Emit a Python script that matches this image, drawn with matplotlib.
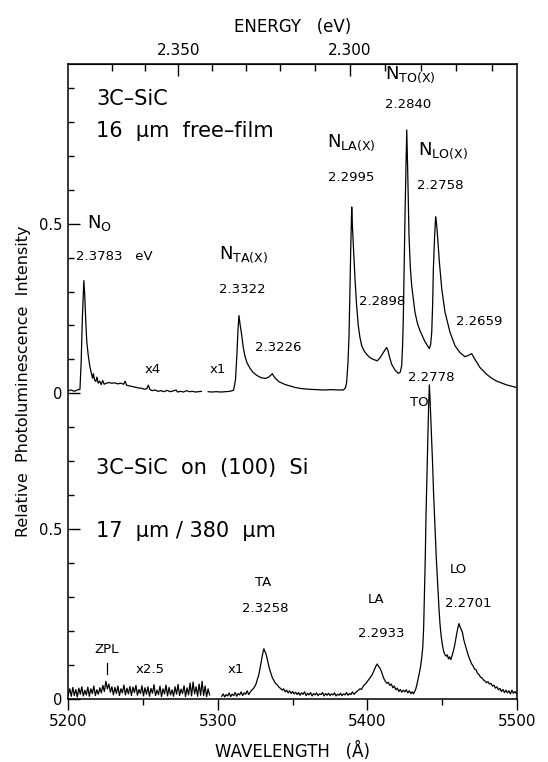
import numpy as np
import matplotlib
matplotlib.use('Agg')
import matplotlib.pyplot as plt
from matplotlib.ticker import FixedLocator, NullFormatter

# ---- upper trace: 16 um free film (offset by 0.9) ----
lam_up1 = [5200.0, 5202.0, 5204.0, 5206.0, 5207.8, 5208.6, 5209.4, 5210.4, 5211.0, 5211.7,
           5212.4, 5213.4, 5214.4, 5215.4, 5216.2, 5216.8, 5217.5, 5218.4, 5219.2, 5220.0,
           5221.0, 5222.0, 5223.0, 5224.0, 5225.5, 5227.0, 5229.0, 5231.0, 5233.0, 5235.0,
           5237.0, 5238.0, 5239.0, 5241.0, 5243.0, 5245.0, 5247.0, 5249.0, 5251.0, 5252.5,
           5253.5, 5254.5, 5256.0, 5258.0, 5260.0, 5262.0, 5264.0, 5266.0, 5268.0, 5270.0,
           5272.0, 5273.0, 5275.0, 5277.0, 5279.0, 5281.0, 5283.0, 5285.0, 5287.0, 5289.0]
int_up1 = [0.008, 0.010, 0.006, 0.010, 0.012, 0.090, 0.220, 0.332, 0.290, 0.210,
           0.150, 0.110, 0.080, 0.060, 0.045, 0.058, 0.040, 0.035, 0.048, 0.030,
           0.036, 0.026, 0.038, 0.027, 0.030, 0.032, 0.030, 0.031, 0.028, 0.030,
           0.027, 0.036, 0.024, 0.022, 0.020, 0.018, 0.016, 0.015, 0.012, 0.014,
           0.024, 0.012, 0.008, 0.010, 0.006, 0.008, 0.005, 0.009, 0.005, 0.007,
           0.010, 0.004, 0.006, 0.004, 0.008, 0.005, 0.006, 0.004, 0.005, 0.006]

lam_up2 = [5293.5, 5296.0, 5299.0, 5302.0, 5305.0, 5308.0, 5310.5, 5311.8, 5312.8, 5313.5,
           5314.1, 5314.8, 5316.0, 5317.0, 5318.1, 5319.5, 5321.5, 5323.5, 5326.0, 5329.0,
           5332.0, 5334.0, 5335.5, 5336.4, 5337.2, 5338.5, 5341.0, 5345.0, 5348.2, 5352.0,
           5356.0, 5361.6, 5366.0, 5371.0, 5376.0, 5380.0, 5383.9, 5385.3, 5386.1, 5387.0,
           5387.7, 5388.3, 5388.8, 5389.5, 5390.0, 5390.6, 5391.7, 5392.8, 5393.9, 5395.0,
           5396.2, 5397.8, 5399.5, 5401.5, 5403.9, 5406.6, 5408.6, 5410.6, 5412.0, 5412.9,
           5413.8, 5414.6, 5416.2, 5418.4, 5420.6, 5421.9, 5422.9, 5423.5, 5424.0, 5424.6,
           5425.1, 5425.7, 5426.3, 5426.9, 5427.8, 5428.7, 5429.6, 5431.8, 5433.5, 5435.2,
           5438.5, 5441.4, 5442.3, 5443.0, 5443.6, 5444.1, 5444.9, 5445.6, 5446.2, 5446.7,
           5448.1, 5449.7, 5451.9, 5455.2, 5458.6, 5461.9, 5465.2, 5467.5, 5469.7, 5471.9,
           5475.3, 5479.7, 5483.0, 5486.4, 5490.0, 5493.1, 5496.5, 5499.8]
int_up2 = [0.005, 0.004, 0.005, 0.004, 0.005, 0.006, 0.009, 0.040, 0.120, 0.190,
           0.229, 0.205, 0.170, 0.135, 0.110, 0.090, 0.074, 0.062, 0.053, 0.046,
           0.044, 0.048, 0.054, 0.058, 0.052, 0.044, 0.034, 0.026, 0.022, 0.017,
           0.014, 0.012, 0.011, 0.010, 0.011, 0.010, 0.010, 0.016, 0.032, 0.090,
           0.170, 0.300, 0.416, 0.549, 0.490, 0.436, 0.337, 0.258, 0.199, 0.165,
           0.140, 0.125, 0.115, 0.106, 0.100, 0.096, 0.106, 0.120, 0.130, 0.135,
           0.126, 0.110, 0.086, 0.069, 0.059, 0.062, 0.081, 0.140, 0.219, 0.380,
           0.515, 0.650, 0.776, 0.663, 0.465, 0.370, 0.317, 0.239, 0.205, 0.184,
           0.152, 0.132, 0.145, 0.180, 0.260, 0.367, 0.460, 0.520, 0.500, 0.475,
           0.387, 0.308, 0.239, 0.180, 0.140, 0.120, 0.108, 0.112, 0.117, 0.100,
           0.076, 0.056, 0.045, 0.036, 0.030, 0.025, 0.021, 0.017]

# ---- lower trace: 3C-SiC on (100) Si ----
# x2.5 part, read at ~1 A steps
int_lo1 = [0.012, 0.030, 0.008, 0.034, 0.010, 0.028, 0.006, 0.032, 0.014, 0.036,
           0.009, 0.026, 0.012, 0.035, 0.008, 0.030, 0.016, 0.038, 0.010, 0.027,
           0.014, 0.033, 0.018, 0.040, 0.022, 0.052, 0.030, 0.044, 0.020, 0.036,
           0.012, 0.034, 0.016, 0.038, 0.010, 0.030, 0.018, 0.041, 0.012, 0.032,
           0.015, 0.037, 0.010, 0.035, 0.019, 0.040, 0.011, 0.028, 0.016, 0.039,
           0.009, 0.033, 0.014, 0.036, 0.008, 0.031, 0.017, 0.042, 0.010, 0.026,
           0.013, 0.038, 0.007, 0.030, 0.015, 0.041, 0.009, 0.034, 0.012, 0.027,
           0.008, 0.036, 0.014, 0.043, 0.010, 0.029, 0.016, 0.039, 0.007, 0.033,
           0.012, 0.047, 0.009, 0.050, 0.015, 0.036, 0.008, 0.044, 0.011, 0.052,
           0.010, 0.038, 0.007, 0.030, 0.012]
lam_lo1 = np.linspace(5200.0, 5294.5, len(int_lo1))

# x1 part
lam_lo2 = [5302.6, 5303.6, 5304.6, 5305.6, 5306.6, 5307.6, 5308.6, 5309.6, 5310.6, 5311.6,
           5312.6, 5313.6, 5314.6, 5315.6, 5316.6, 5317.6, 5318.6, 5319.6, 5320.6, 5321.6,
           5322.6, 5323.6, 5324.6, 5325.6, 5326.4, 5327.2, 5328.0, 5328.8, 5329.5, 5330.2,
           5330.8, 5331.4, 5332.0, 5332.7, 5333.4, 5334.1, 5334.9, 5335.7, 5336.5, 5337.3,
           5338.2, 5339.1, 5340.0, 5341.0, 5342.0, 5343.0, 5344.0, 5345.0, 5346.0, 5347.0,
           5348.0, 5349.0, 5350.0, 5351.0, 5352.0, 5353.0, 5354.0, 5355.0, 5356.0, 5357.0,
           5358.0, 5359.0, 5360.0, 5361.0, 5362.0, 5363.0, 5364.0, 5365.0, 5366.0, 5367.0,
           5368.0, 5369.0, 5370.0, 5371.0, 5372.0, 5373.0, 5374.0, 5375.0, 5376.0, 5377.0,
           5378.0, 5379.0, 5380.0, 5381.0, 5382.0, 5383.0, 5384.0, 5385.0, 5386.0, 5387.0,
           5388.0, 5389.0, 5390.0, 5391.0, 5392.0, 5393.0, 5394.0, 5395.0, 5396.0, 5397.0,
           5398.0, 5399.0, 5400.0, 5401.0, 5402.0, 5403.0, 5404.0, 5405.0, 5405.8, 5406.6,
           5407.4, 5408.2, 5409.0, 5410.0, 5411.0, 5412.0, 5413.0, 5414.0, 5415.0, 5416.0,
           5417.0, 5418.0, 5419.0, 5420.0, 5421.0, 5422.0, 5423.0, 5424.0, 5425.0, 5426.0,
           5427.0, 5428.0, 5429.0, 5430.0, 5430.8, 5431.6, 5432.4, 5433.2, 5434.0, 5434.8,
           5435.6, 5436.4, 5437.0, 5437.6, 5438.1, 5438.7, 5439.2, 5439.8, 5440.3, 5440.9,
           5441.4, 5441.9, 5442.5, 5443.1, 5443.6, 5444.2, 5444.8, 5445.4, 5446.0, 5446.6,
           5447.2, 5447.8, 5448.5, 5449.3, 5450.1, 5451.0, 5451.8, 5452.6, 5453.4, 5454.2,
           5455.0, 5455.8, 5456.6, 5457.4, 5458.2, 5459.0, 5459.7, 5460.4, 5461.2, 5462.0,
           5462.8, 5463.6, 5464.4, 5465.2, 5466.0, 5466.8, 5467.6, 5468.6, 5469.6, 5470.6,
           5471.6, 5472.6, 5473.6, 5474.6, 5475.6, 5476.6, 5477.6, 5478.6, 5479.6, 5480.6,
           5481.6, 5482.6, 5483.6, 5484.6, 5485.6, 5486.6, 5487.6, 5488.6, 5489.6, 5490.6,
           5491.6, 5492.6, 5493.6, 5494.6, 5495.6, 5496.6, 5497.6, 5498.6, 5499.6]
int_lo2 = [0.008, 0.015, 0.006, 0.013, 0.009, 0.018, 0.007, 0.014, 0.010, 0.019,
           0.008, 0.016, 0.012, 0.021, 0.010, 0.018, 0.014, 0.024, 0.013, 0.020,
           0.026, 0.030, 0.036, 0.045, 0.058, 0.068, 0.085, 0.105, 0.122, 0.138,
           0.148, 0.140, 0.136, 0.124, 0.110, 0.096, 0.084, 0.072, 0.062, 0.056,
           0.048, 0.044, 0.040, 0.034, 0.031, 0.026, 0.030, 0.021, 0.026, 0.018,
           0.024, 0.016, 0.022, 0.015, 0.020, 0.013, 0.019, 0.011, 0.018, 0.014,
           0.021, 0.010, 0.017, 0.012, 0.019, 0.009, 0.016, 0.012, 0.018, 0.010,
           0.015, 0.013, 0.019, 0.009, 0.016, 0.011, 0.017, 0.010, 0.015, 0.012,
           0.018, 0.009, 0.014, 0.011, 0.017, 0.010, 0.015, 0.012, 0.019, 0.011,
           0.016, 0.013, 0.021, 0.014, 0.018, 0.022, 0.026, 0.030, 0.028, 0.036,
           0.042, 0.046, 0.052, 0.058, 0.064, 0.070, 0.080, 0.090, 0.098, 0.103,
           0.096, 0.092, 0.085, 0.072, 0.060, 0.052, 0.046, 0.049, 0.040, 0.044,
           0.033, 0.038, 0.027, 0.032, 0.022, 0.028, 0.020, 0.026, 0.021, 0.027,
           0.018, 0.024, 0.016, 0.021, 0.015, 0.022, 0.030, 0.045, 0.062, 0.078,
           0.098, 0.125, 0.152, 0.210, 0.300, 0.420, 0.545, 0.660, 0.760, 0.860,
           0.925, 0.880, 0.815, 0.745, 0.690, 0.610, 0.545, 0.480, 0.420, 0.370,
           0.320, 0.270, 0.222, 0.185, 0.160, 0.140, 0.131, 0.126, 0.130, 0.118,
           0.124, 0.116, 0.128, 0.140, 0.155, 0.175, 0.192, 0.208, 0.222, 0.212,
           0.204, 0.195, 0.175, 0.162, 0.150, 0.138, 0.126, 0.115, 0.104, 0.098,
           0.088, 0.086, 0.076, 0.072, 0.064, 0.062, 0.056, 0.053, 0.048, 0.051,
           0.044, 0.046, 0.038, 0.041, 0.032, 0.036, 0.027, 0.031, 0.022, 0.028,
           0.019, 0.026, 0.018, 0.024, 0.015, 0.026, 0.017, 0.022, 0.016]

OFFSET = 0.9          # upper spectrum sits 0.9 above the lower one
HC = 12393.0          # eV*A (air wavelengths)

fig = plt.figure(figsize=(5.48, 7.62), dpi=100)
ax = fig.add_axes([0.1246, 0.0827, 0.8188, 0.8333])

lw = 0.9
ax.plot(lam_up1, np.array(int_up1) + OFFSET, color='black', lw=lw)
ax.plot(lam_up2, np.array(int_up2) + OFFSET, color='black', lw=lw)
ax.plot(lam_lo1, int_lo1, color='black', lw=lw)
ax.plot(lam_lo2, int_lo2, color='black', lw=lw)

ax.set_xlim(5200, 5500)
ax.set_ylim(0, 1.87)

for s in ax.spines.values():
    s.set_linewidth(1.1)

# bottom axis: wavelength
ax.set_xticks([5200, 5300, 5400, 5500])
ax.xaxis.set_minor_locator(FixedLocator([5250, 5350, 5450]))
ax.tick_params(axis='x', which='both', direction='out', top=False, labelsize=11, pad=3, width=1.0)
ax.tick_params(axis='x', which='major', length=8)
ax.tick_params(axis='x', which='minor', length=4.5)
ax.set_xlabel('WAVELENGTH   (Å)', fontsize=12, labelpad=9)

# left axis: two stacked intensity scales
ax.set_yticks([0, 0.5, 0.9, 1.4])
ax.set_yticklabels(['0', '0.5', '0', '0.5'])
ax.yaxis.set_minor_locator(FixedLocator([0.1, 0.2, 0.3, 0.4, 0.6, 0.7, 0.8,
                                         1.0, 1.1, 1.2, 1.3, 1.5, 1.6, 1.7, 1.8]))
ax.tick_params(axis='y', which='both', direction='in', right=False, labelsize=10.5, pad=4, width=1.0)
ax.tick_params(axis='y', which='major', length=8.5)
ax.tick_params(axis='y', which='minor', length=4)
ax.set_ylabel('Relative  Photoluminescence  Intensity', fontsize=11.5, labelpad=6)

# top axis: energy
sec = ax.secondary_xaxis('top', functions=(lambda w: HC / w, lambda e: HC / e))
sec.set_xticks([2.35, 2.30])
sec.set_xticklabels(['2.350', '2.300'])
sec.xaxis.set_minor_locator(FixedLocator([2.37, 2.36, 2.34, 2.33, 2.32, 2.31,
                                          2.29, 2.28, 2.27, 2.26]))
sec.xaxis.set_minor_formatter(NullFormatter())
sec.tick_params(which='both', direction='in', labelsize=11, pad=4, width=1.0)
sec.tick_params(which='major', length=8.5)
sec.tick_params(which='minor', length=5)
sec.set_xlabel('ENERGY   (eV)', fontsize=12, labelpad=8)

# sample descriptions
ax.text(5218.6, 1.767, '3C–SiC', fontsize=15, va='center')
ax.text(5218.6, 1.673, '16  μm  free–film', fontsize=15, va='center')
ax.text(5218.6, 0.681, '3C–SiC  on  (100)  Si', fontsize=15, va='center')
ax.text(5218.6, 0.495, '17  μm / 380  μm', fontsize=15, va='center')

# peak labels, upper spectrum
lab = dict(fontsize=9.5, va='center')
big = dict(fontsize=13, va='center')
ax.text(5212.5, 1.403, r'N$_{\mathrm{O}}$', **big)
ax.text(5205.1, 1.304, '2.3783   eV', **lab)
ax.text(5301.0, 1.307, r'N$_{\mathrm{TA(X)}}$', **big)
ax.text(5300.8, 1.206, '2.3322', **lab)
ax.text(5324.8, 1.035, '2.3226', **lab)
ax.text(5373.0, 1.639, r'N$_{\mathrm{LA(X)}}$', **big)
ax.text(5373.6, 1.535, '2.2995', **lab)
ax.text(5411.7, 1.838, r'N$_{\mathrm{TO(X)}}$', **big)
ax.text(5412.0, 1.750, '2.2840', **lab)
ax.text(5433.8, 1.614, r'N$_{\mathrm{LO(X)}}$', **big)
ax.text(5433.2, 1.512, '2.2758', **lab)
ax.text(5394.4, 1.170, '2.2898', **lab)
ax.text(5459.2, 1.111, '2.2659', **lab)
ax.text(5256.4, 0.970, 'x4', ha='center', **lab)
ax.text(5300.1, 0.970, 'x1', ha='center', **lab)

# peak labels, lower spectrum
ax.text(5427.1, 0.948, '2.2778', **lab)
ax.text(5428.5, 0.872, 'TO', **lab)
ax.text(5324.8, 0.342, 'TA', **lab)
ax.text(5316.1, 0.265, '2.3258', **lab)
ax.text(5400.4, 0.294, 'LA', **lab)
ax.text(5393.7, 0.193, '2.2933', **lab)
ax.text(5455.2, 0.381, 'LO', **lab)
ax.text(5451.9, 0.282, '2.2701', **lab)
ax.text(5225.7, 0.147, 'ZPL', ha='center', **lab)
ax.plot([5225.7, 5225.7], [0.075, 0.107], color='black', lw=0.9)
ax.text(5254.6, 0.086, 'x2.5', ha='center', **lab)
ax.text(5312.1, 0.086, 'x1', ha='center', **lab)

fig.savefig('out.png', dpi=100)
